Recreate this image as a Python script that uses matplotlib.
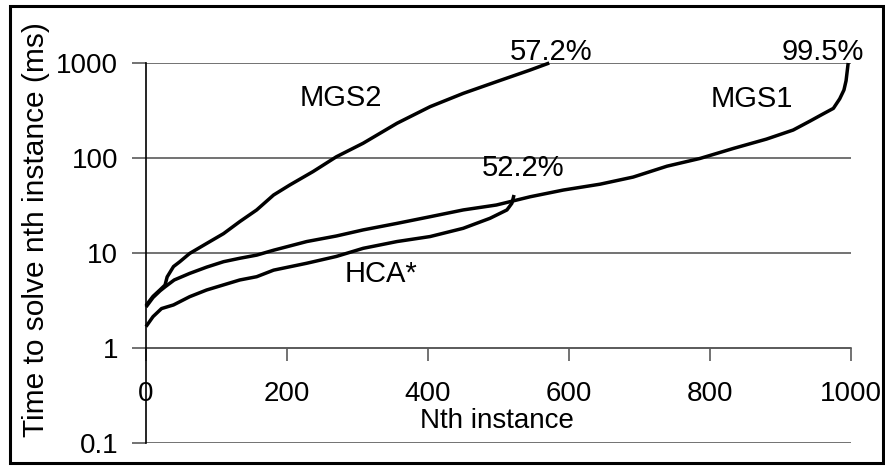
import matplotlib
matplotlib.use("Agg")
import matplotlib.pyplot as plt
from matplotlib.patches import Rectangle

plt.rcParams['font.family'] = ['Liberation Sans', 'DejaVu Sans']

# ---- data ----
mgs2_n = [0, 10, 20, 27, 30, 39, 48, 62, 86, 110, 133, 157, 181, 204, 237, 270,
          308, 356, 403, 450, 497, 545, 572]
mgs2_v = [2.8, 3.5, 4.1, 4.6, 5.6, 7.2, 8.1, 9.9, 12.6, 16, 21.4, 28.4, 40.8, 52,
          72, 103, 143, 232, 347, 479, 635, 844, 1000]

mgs1_n = [0, 10, 20, 27, 40, 62, 86, 110, 133, 157, 181, 228, 270, 308, 356, 403,
          450, 497, 545, 592, 644, 691, 739, 786, 833, 880, 918, 942, 960, 975, 984,
          990, 993, 996]
mgs1_v = [2.7, 3.4, 4.0, 4.4, 5.2, 6.1, 7.1, 8.1, 8.8, 9.5, 10.7, 13.2, 15.1, 17.5,
          20.5, 24.1, 28.4, 32, 39.1, 46, 53, 63, 82, 99, 126, 158, 197, 245, 290,
          333, 420, 520, 650, 1000]

hca_n = [0, 10, 22, 39, 62, 86, 133, 157, 181, 228, 270, 308, 356, 403, 450, 488,
         512, 519, 522]
hca_v = [1.68, 2.14, 2.6, 2.84, 3.47, 4.08, 5.2, 5.63, 6.6, 7.8, 9.2, 11.2, 13.2,
         14.9, 18.2, 23.2, 28.4, 33.4, 40.8]

x_ticks = [0, 200, 400, 600, 800, 1000]
y_ticks = [0.1, 1, 10, 100, 1000]
y_ticklabels = ["0.1", "1", "10", "100", "1000"]

labels = [  # text, n, value
    ("57.2%", 575, 1300),
    ("99.5%", 960, 1300),
    ("MGS1", 860, 418),
    ("MGS2", 277, 428),
    ("52.2%", 535, 78.5),
    ("HCA*", 333, 6.0),
]

W, H = 885, 466
fig = plt.figure(figsize=(W / 100, H / 100), dpi=100)
ax = fig.add_axes([146 / W, 1 - 443 / H, (851 - 146) / W, (443 - 63) / H])

grid_c = '#5a5a5a'
ax.set_yscale('log')
ax.set_xlim(0, 1000)
ax.set_ylim(0.1, 1000)

for y in y_ticks:
    ax.axhline(y, color=grid_c, lw=1.2, zorder=1)

for n, v in [(mgs2_n, mgs2_v), (mgs1_n, mgs1_v), (hca_n, hca_v)]:
    ax.plot(n, v, color='black', lw=2.5, solid_capstyle='butt',
            solid_joinstyle='round', zorder=3, clip_on=False)

ax.spines['top'].set_visible(False)
ax.spines['right'].set_visible(False)
ax.spines['left'].set_color('black')
ax.spines['left'].set_linewidth(1.2)
ax.spines['left'].set_zorder(4)
ax.spines['bottom'].set_position(('data', 1))
ax.spines['bottom'].set_color(grid_c)
ax.spines['bottom'].set_linewidth(1.2)

ax.set_xticks(x_ticks)
ax.set_xticklabels([str(t) for t in x_ticks])
ax.set_yticks(y_ticks)
ax.set_yticklabels(y_ticklabels)
ax.yaxis.set_minor_locator(matplotlib.ticker.NullLocator())
ax.tick_params(axis='x', direction='out', length=9, width=1.2, color=grid_c,
               labelsize=20, pad=15)
ax.tick_params(axis='y', direction='out', length=10, width=1.2, color=grid_c,
               labelsize=20, pad=10)

for txt, n, v in labels:
    ax.text(n, v, txt, fontsize=21, ha='center', va='center', zorder=5)

fig.text(36 / W, 1 - 230 / H, "Time to solve nth instance (ms)", rotation=90,
         fontsize=21.5, ha='center', va='center')
fig.text(497 / W, 1 - 421 / H, "Nth instance", fontsize=20, ha='center', va='center')

fig.patches.append(Rectangle((10 / W, 1 - 463 / H), (883 - 10) / W, (463 - 6) / H,
                             transform=fig.transFigure, fill=False,
                             edgecolor='black', lw=2.2))

fig.savefig("out.png", dpi=100)
